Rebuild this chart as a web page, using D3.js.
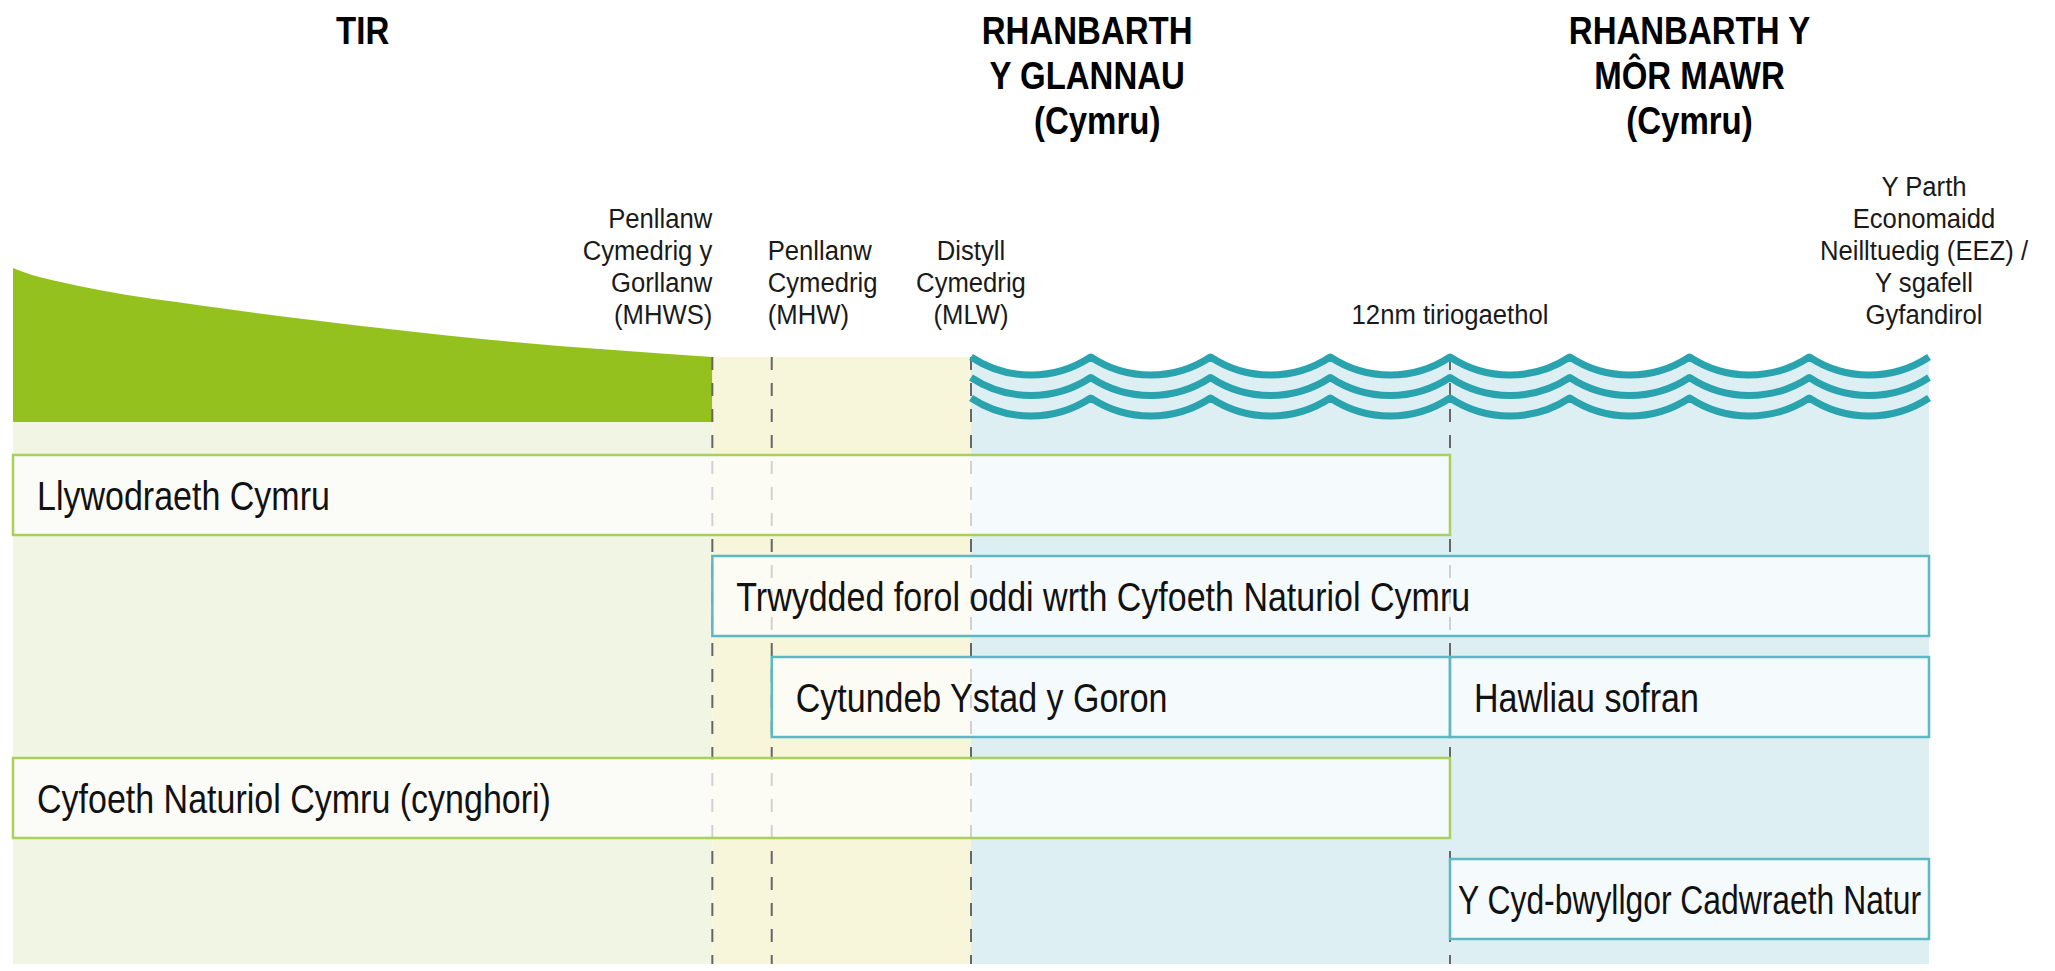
<!DOCTYPE html>
<html><head><meta charset="utf-8">
<script src="https://cdn.jsdelivr.net/npm/d3@7"></script>
<style>body{margin:0;background:#fff;} svg{display:block;}</style>
</head><body>
<svg id="chart" width="2055" height="971"></svg>
<script>
// ---------------- data ----------------
const regionTitles = [["TIR"], ["RHANBARTH", "Y GLANNAU", "(Cymru)"], ["RHANBARTH Y", "MÔR MAWR", "(Cymru)"]];
const regionStart = [0, 36.5, 75];
const regionEnd = [36.5, 75, 100];

const boundaryNames = ["MHWS", "MHW", "MLW", "12nm", "EEZ"];
const boundaryPos = [36.5, 39.6, 50, 75, 100];
const boundaryLabels = [
  ["Penllanw", "Cymedrig y", "Gorllanw", "(MHWS)"],
  ["Penllanw", "Cymedrig", "(MHW)"],
  ["Distyll", "Cymedrig", "(MLW)"],
  ["12nm tiriogaethol"],
  ["Y Parth", "Economaidd", "Neilltuedig (EEZ) /", "Y sgafell", "Gyfandirol"]
];
const boundaryDashed = [true, true, true, true, false];

const barLabels = ["Llywodraeth Cymru", "Trwydded forol oddi wrth Cyfoeth Naturiol Cymru",
  "Cytundeb Ystad y Goron", "Hawliau sofran", "Cyfoeth Naturiol Cymru (cynghori)",
  "Y Cyd-bwyllgor Cadwraeth Natur"];
const barStart = [0, 36.5, 39.6, 75, 0, 75];
const barEnd = [75, 100, 75, 100, 75, 100];
const barRow = [0, 1, 2, 2, 3, 4];
const barGroup = ["land", "sea", "sea", "sea", "land", "sea"];

// land profile (position along transect, elevation above strand)
const landX = [0, 1, 2.5, 4.5, 10, 15.6, 25, 36.5];
const landElev = [154, 147, 140, 132, 116, 102, 82, 65];
const shoreElev = 65;

// wave crest positions and layers
const waveCrests = [50, 56.25, 62.5, 68.75, 75, 81.25, 87.5, 93.75, 100];
const waveLayers = [0, 1, 2];

// ---------------- fonts ----------------
const FONT = '"Liberation Sans", Arial, sans-serif';
const bodySize = 40, bodySqueeze = 0.85;
const titleSize = 39, titleSqueeze = 0.846;
const labelSize = 27, labelSqueeze = 0.95;

// ---------------- colours ----------------
const C = {
  land: "#95c11f", landBg: "#f1f6e4", shore: "#f7f6da", sea: "#ddeff3",
  wave: "#29a3ae", dash: "#666666", landBorder: "#a9cf5c", seaBorder: "#5cb9c3"
};

// squeeze a text element horizontally (condensed look)
function squeeze(sel, k, maxW) {
  sel.each(function () {
    const w = this.getComputedTextLength();
    let target = w * k;
    if (maxW !== undefined && target > maxW) target = maxW;
    d3.select(this).attr("textLength", target).attr("lengthAdjust", "spacingAndGlyphs");
  });
}

// ---------------- scales ----------------
const svg = d3.select("#chart");
const x = d3.scaleLinear().domain([0, 100]).range([13, 1929]);
const yElev = d3.scaleLinear().domain([0, 160]).range([422, 262]);
const yRow = d3.scaleLinear().domain([0, 5]).range([455, 960]);
const rowH = 80;
const yWave = d3.scaleLinear().domain([0, 1]).range([yElev(shoreElev), yElev(shoreElev) + 20.5]);
const bottom = 964;
const sag = 18;

// ---------------- backgrounds ----------------
svg.append("rect").attr("x", x(0)).attr("y", yElev(0))
  .attr("width", x(boundaryPos[0]) - x(0)).attr("height", bottom - yElev(0)).attr("fill", C.landBg);

const landArea = d3.area().x(d => x(d[0])).y0(yElev(0)).y1(d => yElev(d[1])).curve(d3.curveMonotoneX);
svg.append("path").attr("d", landArea(landX.map((v, i) => [v, landElev[i]]))).attr("fill", C.land);

svg.append("rect").attr("x", x(boundaryPos[0])).attr("y", yElev(shoreElev))
  .attr("width", x(boundaryPos[2]) - x(boundaryPos[0])).attr("height", bottom - yElev(shoreElev)).attr("fill", C.shore);

function wavePath(y0) {
  let d = `M${x(waveCrests[0])},${y0}`;
  for (let i = 1; i < waveCrests.length; i++) {
    const chord = x(waveCrests[i]) - x(waveCrests[i - 1]);
    const r = (chord * chord / 4 + sag * sag) / (2 * sag);
    d += `A${r},${r} 0 0 0 ${x(waveCrests[i])},${y0}`;
  }
  return d;
}
svg.append("path")
  .attr("d", wavePath(yWave(0)) + `L${x(waveCrests[waveCrests.length - 1])},${bottom}L${x(waveCrests[0])},${bottom}Z`)
  .attr("fill", C.sea);

// ---------------- dashed boundary lines ----------------
svg.append("g").selectAll("line")
  .data(boundaryPos.filter((p, i) => boundaryDashed[i]))
  .join("line")
  .attr("x1", d => x(d)).attr("x2", d => x(d))
  .attr("y1", yElev(shoreElev)).attr("y2", bottom)
  .attr("stroke", C.dash).attr("stroke-width", 2).attr("stroke-dasharray", "13,13");

// ---------------- waves ----------------
svg.append("g").selectAll("path").data(waveLayers).join("path")
  .attr("d", d => wavePath(yWave(d)))
  .attr("fill", "none").attr("stroke", C.wave).attr("stroke-width", 7)
  .attr("stroke-linejoin", "round").attr("stroke-linecap", "butt");

// ---------------- bars ----------------
const bars = barLabels.map((l, i) => ({ label: l, s: barStart[i], e: barEnd[i], row: barRow[i], group: barGroup[i] }));
const bg = svg.append("g").selectAll("g").data(bars).join("g");
bg.append("rect")
  .attr("x", d => x(d.s)).attr("y", d => yRow(d.row))
  .attr("width", d => x(d.e) - x(d.s)).attr("height", rowH)
  .attr("fill", "#ffffff").attr("fill-opacity", 0.7)
  .attr("stroke", d => d.group === "land" ? C.landBorder : C.seaBorder).attr("stroke-width", 2.5);
bg.append("text")
  .attr("x", d => x(d.s) + 24).attr("y", d => yRow(d.row) + 55)
  .attr("font-family", FONT).attr("font-size", bodySize).attr("fill", "#111")
  .text(d => d.label)
  .each(function (d) {
    const w = this.getComputedTextLength() * bodySqueeze;
    const avail = x(d.e) - x(d.s);
    const sel = d3.select(this);
    if (w + 48 > avail) {
      sel.attr("text-anchor", "middle").attr("x", (x(d.s) + x(d.e)) / 2);
      squeeze(sel, bodySqueeze, avail - 16);
    } else {
      squeeze(sel, bodySqueeze);
    }
  });

// ---------------- boundary labels ----------------
const labelBase = 324, labelStep = 32;
const anchors = ["end", "start", "middle", "middle", "middle"];
const offs = [0, -4, 0, 0, -5];
boundaryLabels.forEach((lines, i) => {
  const g = svg.append("g");
  lines.forEach((ln, j) => {
    const t = g.append("text")
      .attr("font-family", FONT).attr("font-size", labelSize).attr("fill", "#1a1a1a")
      .attr("text-anchor", anchors[i])
      .attr("x", x(boundaryPos[i]) + offs[i])
      .attr("y", labelBase - (lines.length - 1 - j) * labelStep).text(ln);
    squeeze(t, labelSqueeze);
  });
});

// ---------------- region titles ----------------
regionTitles.forEach((lines, i) => {
  const cx = (x(regionStart[i]) + x(regionEnd[i])) / 2 + (i === 1 ? 6 : 0);
  const g = svg.append("g");
  lines.forEach((ln, j) => {
    const t = g.append("text").attr("font-family", FONT).attr("font-weight", "bold")
      .attr("font-size", titleSize).attr("text-anchor", "middle").attr("fill", "#000")
      .attr("x", cx + (i === 1 && j === 2 ? 10 : 0)).attr("y", 44 + j * 45).text(ln);
    squeeze(t, titleSqueeze);
  });
});
</script>
</body></html>
